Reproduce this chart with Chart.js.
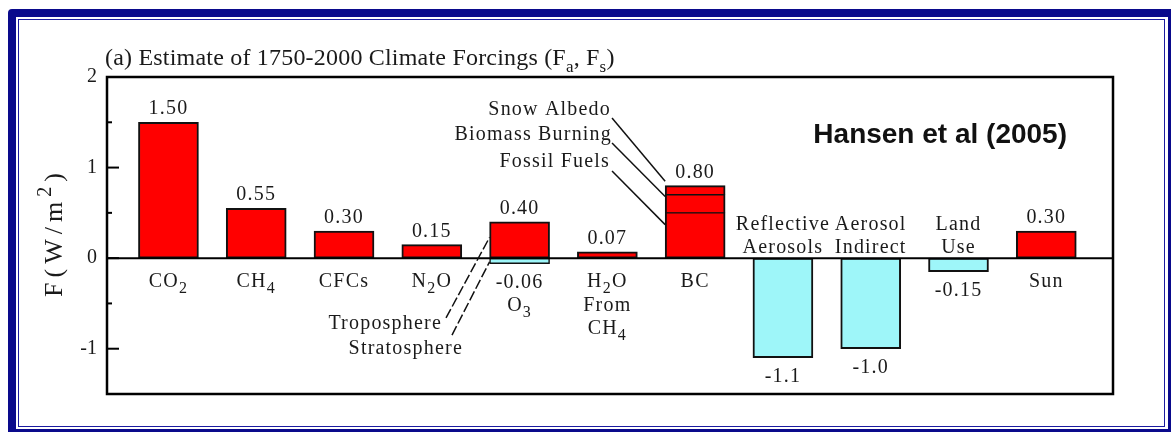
<!DOCTYPE html>
<html>
<head>
<meta charset="utf-8">
<script src="https://cdn.jsdelivr.net/npm/chart.js@4.4.1/dist/chart.umd.min.js"></script>
<style>
  html, body { margin: 0; padding: 0; background: #fff; overflow: hidden; }
  #wrap { position: relative; width: 1171px; height: 432px; }
  #frame { position: absolute; left: 8px; top: 9px; width: 1168px; height: 428px; box-sizing: border-box;
           border: 8px solid #0a0a8c; border-radius: 4px; }
  #frame-inner { position: absolute; left: 2px; top: 2px; right: 3px; bottom: 2px; border: 1.5px solid #1c1ca0; }
  canvas { position: absolute; left: 0; top: 0; }
</style>
</head>
<body>
<div id="wrap">
  <div id="frame"><div id="frame-inner"></div></div>
  <canvas id="forcings" width="1171" height="432"></canvas>
</div>
<script>
// --- data ---
// "_x" = subscript, "^x" = superscript; arrays are multi-line labels
const categories = ['CO_2', 'CH_4', 'CFCs', 'N_2O', 'O_3', ['H_2O', 'From', 'CH_4'], 'BC',
                    ['Reflective', 'Aerosols'], ['Aerosol', 'Indirect'], ['Land', 'Use'], 'Sun'];
const forcings = [1.50, 0.55, 0.30, 0.15, 0.40, 0.07, 0.80, -1.1, -1.0, -0.15, 0.30];
const valueLabels = ['1.50', '0.55', '0.30', '0.15', '0.40', '0.07', '0.80', '-1.1', '-1.0', '-0.15', '0.30'];

// black carbon by source, bottom to top
const bcSources = ['Fossil Fuels', 'Biomass Burning', 'Snow Albedo'];
const bcValues = [0.50, 0.20, 0.10];

// ozone: troposphere is the 0.40 above, stratosphere is negative
const o3Strat = -0.06;
const o3StratLabel = '-0.06';

const yTickLabels = [-1, 0, 1, 2];

const RED = '#ff0000';
const CYAN = '#9ef6f9';
const INK = '#1a1a1a';
const SERIF = '"Liberation Serif", "Times New Roman", serif';

const BC = categories.indexOf('BC');
const O3 = categories.indexOf('O_3');
const pos = i => i + 1;

// --- rich text (sub/superscripts, letter spacing) ---
function parseRich(str) {
  const segs = [];
  for (let i = 0; i < str.length; i++) {
    const c = str[i];
    if ((c === '_' || c === '^') && i + 1 < str.length) {
      segs.push({ t: str[i + 1], k: c });
      i++;
    } else {
      const last = segs[segs.length - 1];
      if (last && last.k === '') last.t += c;
      else segs.push({ t: c, k: '' });
    }
  }
  return segs;
}

function drawRich(ctx, str, x, y, o) {
  const size = o.size;
  const segs = parseRich(str);
  const fontFor = k => (k ? Math.round(size * (o.sub || 0.8)) : size) + 'px ' + SERIF;
  ctx.save();
  if ('letterSpacing' in ctx) ctx.letterSpacing = (o.ls || 0) + 'px';
  let w = 0;
  segs.forEach(s => { ctx.font = fontFor(s.k); s.w = ctx.measureText(s.t).width; w += s.w; });
  let cx = o.align === 'right' ? x - w : o.align === 'center' ? x - w / 2 : x;
  ctx.textAlign = 'left';
  ctx.textBaseline = 'alphabetic';
  ctx.fillStyle = INK;
  segs.forEach(s => {
    ctx.font = fontFor(s.k);
    const dy = s.k === '_' ? size * 0.3 : s.k === '^' ? -size * 0.42 : 0;
    ctx.fillText(s.t, cx, y + dy);
    cx += s.w;
  });
  ctx.restore();
  return w;
}

// --- annotations, placed in data units (x = category position, y = W/m2) ---
const bcNotes = [
  { text: 'Snow Albedo',     at: [6.041, 1.580], from: [6.053, 1.547], to: 0.85 },
  { text: 'Biomass Burning', at: [6.053, 1.304], from: [6.053, 1.271], to: 0.68 },
  { text: 'Fossil Fuels',    at: [6.030, 1.006], from: [6.053, 0.962], to: 0.37 }
];
const o3Notes = [
  { text: 'Troposphere',  at: [4.116, -0.782], from: [4.162, -0.660], to: 0.23 },
  { text: 'Stratosphere', at: [4.355, -1.058], from: [4.230, -0.849], to: -0.04 }
];

const BAR_W = 60;

const framePlugin = {
  id: 'frame',
  afterDatasetsDraw(chart) {
    const { ctx, chartArea: a, scales: { y } } = chart;
    ctx.save();
    ctx.strokeStyle = '#000';
    // zero line
    ctx.lineWidth = 2;
    const y0 = y.getPixelForValue(0);
    ctx.beginPath(); ctx.moveTo(a.left, y0); ctx.lineTo(a.right, y0); ctx.stroke();
    // box
    ctx.lineWidth = 2.5;
    ctx.strokeRect(a.left, a.top, a.right - a.left, a.bottom - a.top);
    // inward ticks on the left axis
    ctx.lineWidth = 2;
    y.ticks.forEach(t => {
      const py = y.getPixelForValue(t.value);
      const len = Number.isInteger(t.value) ? 12 : 5;
      ctx.beginPath(); ctx.moveTo(a.left, py); ctx.lineTo(a.left + len, py); ctx.stroke();
    });
    ctx.restore();
  }
};

const labelPlugin = {
  id: 'labels',
  afterDraw(chart) {
    const { ctx, chartArea: a, scales: { x, y } } = chart;
    const y0 = y.getPixelForValue(0);
    const lineH = 23.5;
    const txt = { size: 20, ls: 1.2, align: 'center' };

    // title
    drawRich(ctx, '(a) Estimate of 1750-2000 Climate Forcings (F_a, F_s)', a.left - 2, a.top - 12, { size: 24, ls: 0.2, sub: 0.7 });

    // y axis title
    ctx.save();
    ctx.translate(62, (a.top + a.bottom) / 2 - 3);
    ctx.rotate(-Math.PI / 2);
    drawRich(ctx, 'F(W/m^2)', 0, 0, { size: 26, ls: 5, align: 'center', sub: 0.75 });
    ctx.restore();

    // source
    ctx.save();
    ctx.font = 'bold 28px "Liberation Sans", Arial, sans-serif';
    ctx.fillStyle = '#111';
    ctx.textAlign = 'right';
    ctx.fillText('Hansen et al (2005)', a.right - 46, a.top + 66);
    ctx.restore();

    categories.forEach((c, i) => {
      const px = x.getPixelForValue(pos(i));
      const v = forcings[i];
      const pv = y.getPixelForValue(v);
      // value
      drawRich(ctx, valueLabels[i], px, v >= 0 ? pv - 8 : pv + 24, txt);
      // category name
      const lines = Array.isArray(c) ? c : [c];
      if (v >= 0) {
        let base = y0 + 29;
        if (i === O3) {
          drawRich(ctx, o3StratLabel, px, y.getPixelForValue(o3Strat) + 24, txt);
          base += 24;
        }
        lines.forEach((l, k) => drawRich(ctx, l, px, base + k * lineH, txt));
      } else {
        lines.forEach((l, k) => drawRich(ctx, l, px, y0 - 5 - (lines.length - 1 - k) * lineH, txt));
      }
    });

    // leader lines
    const leaders = (notes, idx, dash) => {
      const edge = x.getPixelForValue(pos(idx)) - BAR_W / 2;
      notes.forEach(n => {
        drawRich(ctx, n.text, x.getPixelForValue(n.at[0]), y.getPixelForValue(n.at[1]), { size: 20, ls: 1.2, align: 'right' });
        ctx.save();
        ctx.strokeStyle = '#111';
        ctx.lineWidth = 1.5;
        ctx.setLineDash(dash);
        ctx.beginPath();
        ctx.moveTo(x.getPixelForValue(n.from[0]), y.getPixelForValue(n.from[1]));
        ctx.lineTo(edge, y.getPixelForValue(n.to));
        ctx.stroke();
        ctx.restore();
      });
    };
    leaders(bcNotes, BC, []);
    leaders(o3Notes, O3, [10, 3]);
  }
};

const barStyle = { borderColor: '#111', borderSkipped: false, barThickness: BAR_W };

const datasets = [
  {
    ...barStyle,
    label: 'Forcing',
    data: forcings.map((v, i) => ({ x: pos(i), y: v })).filter((d, i) => i !== BC),
    backgroundColor: ctx => (ctx.raw && ctx.raw.y < 0 ? CYAN : RED),
    borderWidth: 2
  },
  ...bcValues.map((v, k) => ({
    ...barStyle,
    label: bcSources[k],
    data: [{ x: pos(BC), y: v }],
    backgroundColor: RED,
    borderWidth: { left: 2, right: 2, top: k === bcValues.length - 1 ? 2 : 1, bottom: k === 0 ? 2 : 1 }
  })),
  {
    ...barStyle,
    label: 'Stratospheric O3',
    data: [{ x: pos(O3), y: o3Strat }],
    backgroundColor: CYAN,
    borderWidth: 1.5
  }
];

new Chart(document.getElementById('forcings'), {
  type: 'bar',
  data: { datasets },
  options: {
    responsive: false,
    devicePixelRatio: 1,
    animation: false,
    layout: { padding: { left: 0, top: 77, right: 58, bottom: 38 } },
    plugins: { legend: { display: false }, tooltip: { enabled: false }, title: { display: false } },
    scales: {
      x: { type: 'linear', min: 0.3, max: 11.76, offset: false, grid: { offset: false }, display: false, stacked: true },
      y: {
        min: -1.5, max: 2, stacked: true,
        grid: { display: false, drawTicks: false },
        border: { display: false },
        ticks: {
          stepSize: 0.5, autoSkip: false, padding: 10, color: INK,
          font: { family: SERIF, size: 20 },
          callback: v => (yTickLabels.includes(v) ? String(v) : '')
        },
        afterFit: s => { s.width = 107; }
      }
    }
  },
  plugins: [framePlugin, labelPlugin]
});
</script>
</body>
</html>
